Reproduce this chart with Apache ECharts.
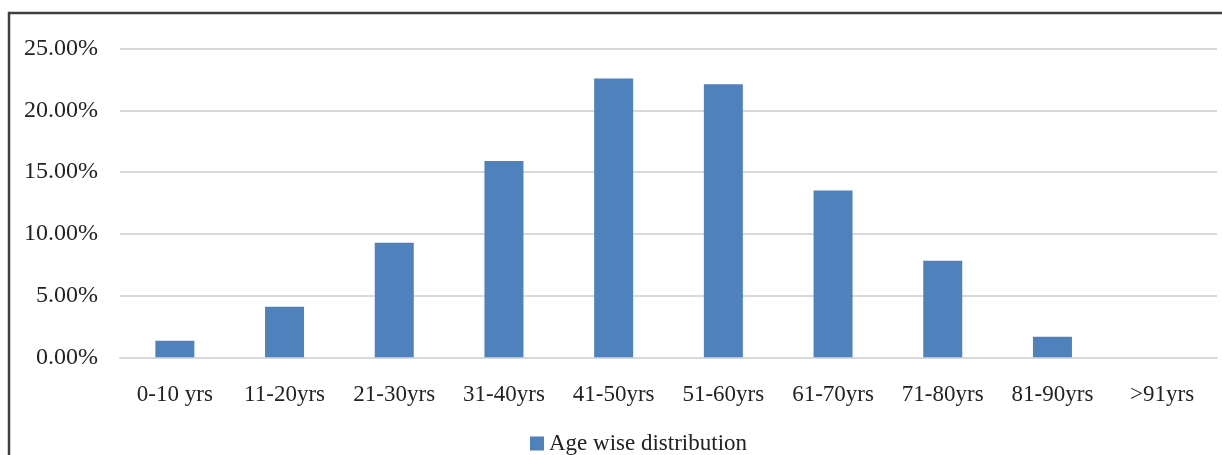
<!DOCTYPE html>
<html>
<head>
<meta charset="utf-8">
<script src="https://cdn.jsdelivr.net/npm/echarts@6/dist/echarts.min.js"></script>
<style>
html,body{margin:0;padding:0;background:#fff;}
#chart{width:1222px;height:455px;}
</style>
</head>
<body>
<div id="chart"></div>
<script>
const categories = ['0-10 yrs','11-20yrs','21-30yrs','31-40yrs','41-50yrs','51-60yrs','61-70yrs','71-80yrs','81-90yrs','>91yrs'];
const seriesName = 'Age wise distribution';
const values = [1.34, 4.09, 9.27, 15.9, 22.57, 22.11, 13.5, 7.82, 1.67, 0];
const yTicks = [0, 5, 10, 15, 20, 25];

const chart = echarts.init(document.getElementById('chart'));
const font = '"Liberation Serif", "Times New Roman", serif';
chart.setOption({
  animation: false,
  backgroundColor: '#fff',
  graphic: [{
    type: 'rect',
    shape: {x: 9, y: 13, width: 1300, height: 500},
    style: {fill: 'none', stroke: '#404040', lineWidth: 2.5},
    silent: true
  }],
  grid: {left: 120, right: 5, top: 48.5, bottom: 97.7},
  legend: {
    data: [seriesName],
    left: 525, top: 427,
    icon: 'rect', itemWidth: 14, itemHeight: 14, itemGap: 6,
    textStyle: {fontFamily: font, fontSize: 23, color: '#222'}
  },
  xAxis: {
    type: 'category',
    data: categories,
    axisLine: {show: true, lineStyle: {color: '#d9d9d9', width: 2}},
    axisTick: {show: false},
    axisLabel: {fontFamily: font, fontSize: 23, color: '#222', margin: 26, interval: 0}
  },
  yAxis: {
    type: 'value',
    min: yTicks[0], max: yTicks[yTicks.length - 1], interval: 5,
    axisLine: {show: false},
    axisTick: {show: false},
    splitLine: {lineStyle: {color: '#d9d9d9', width: 2}},
    axisLabel: {fontFamily: font, fontSize: 24, color: '#222', margin: 22,
      formatter: v => v.toFixed(2) + '%'}
  },
  series: [{
    name: seriesName,
    type: 'bar',
    data: values,
    barWidth: 39,
    itemStyle: {color: '#4f81bd'}
  }]
});
</script>
</body>
</html>
